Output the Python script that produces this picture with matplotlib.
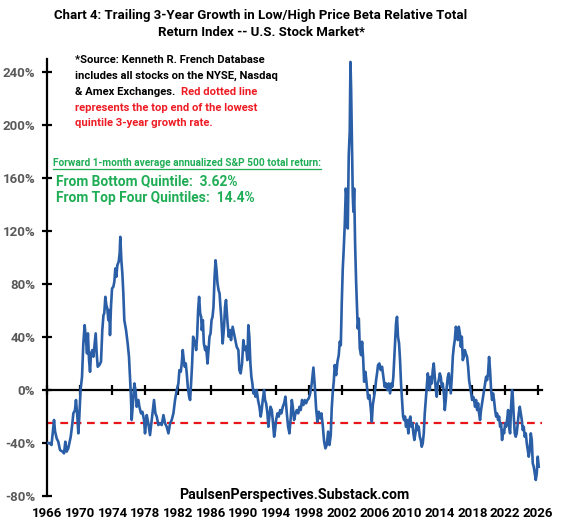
import matplotlib
matplotlib.use("Agg")
import matplotlib.pyplot as plt
from matplotlib.lines import Line2D

plt.rcParams['font.family'] = ['Roboto', 'DejaVu Sans']
plt.rcParams['font.weight'] = 'bold'

# trailing 3-year growth (percent)
years = [1966.10, 1966.37, 1966.55, 1966.86, 1966.98, 1967.18, 1967.38, 1967.59, 1967.90, 1968.08,
         1968.24, 1968.40, 1968.60, 1968.90, 1969.10, 1969.22, 1969.42, 1969.54, 1969.71, 1969.83,
         1969.95, 1970.10, 1970.28, 1970.44, 1970.60, 1970.77, 1970.89, 1971.00, 1971.14, 1971.26,
         1971.38, 1971.54, 1971.67, 1971.79, 1971.95, 1972.07, 1972.20, 1972.40, 1972.60, 1972.76,
         1972.90, 1973.00, 1973.13, 1973.25, 1973.37, 1973.50, 1973.62, 1973.70, 1973.82, 1973.95,
         1974.11, 1974.23, 1974.35, 1974.47, 1974.60, 1974.76, 1974.88, 1974.96, 1975.09, 1975.21,
         1975.33, 1975.45, 1975.66, 1975.86, 1976.02, 1976.14, 1976.26, 1976.35, 1976.56, 1976.68,
         1976.84, 1976.96, 1977.17, 1977.29, 1977.49, 1977.66, 1977.86, 1977.98, 1978.19, 1978.39,
         1978.59, 1978.80, 1979.08, 1979.25, 1979.41, 1979.61, 1979.82, 1980.02, 1980.23, 1980.43,
         1980.63, 1980.84, 1981.04, 1981.24, 1981.45, 1981.65, 1981.86, 1982.06, 1982.18, 1982.35,
         1982.47, 1982.59, 1982.72, 1982.84, 1982.96, 1983.08, 1983.21, 1983.37, 1983.49, 1983.61,
         1983.74, 1983.86, 1983.98, 1984.10, 1984.23, 1984.35, 1984.47, 1984.59, 1984.72, 1984.84,
         1984.92, 1985.05, 1985.17, 1985.33, 1985.45, 1985.62, 1985.74, 1985.86, 1985.99, 1986.11,
         1986.23, 1986.35, 1986.48, 1986.60, 1986.72, 1986.84, 1986.97, 1987.09, 1987.17, 1987.29,
         1987.47, 1987.64, 1987.76, 1987.88, 1988.04, 1988.21, 1988.37, 1988.49, 1988.69, 1988.86,
         1989.02, 1989.18, 1989.39, 1989.51, 1989.67, 1989.84, 1990.00, 1990.16, 1990.33, 1990.49,
         1990.61, 1990.73, 1990.86, 1990.98, 1991.10, 1991.22, 1991.35, 1991.47, 1991.63, 1991.79,
         1991.96, 1992.12, 1992.24, 1992.37, 1992.53, 1992.65, 1992.78, 1992.94, 1993.06, 1993.18,
         1993.31, 1993.47, 1993.59, 1993.76, 1993.88, 1994.00, 1994.17, 1994.33, 1994.49, 1994.65,
         1994.82, 1994.98, 1995.14, 1995.31, 1995.47, 1995.63, 1995.80, 1995.92, 1996.04, 1996.20,
         1996.37, 1996.53, 1996.70, 1996.86, 1997.01, 1997.17, 1997.34, 1997.50, 1997.66, 1997.83,
         1997.99, 1998.15, 1998.36, 1998.56, 1998.72, 1998.89, 1999.05, 1999.21, 1999.38, 1999.54,
         1999.70, 1999.87, 2000.03, 2000.19, 2000.36, 2000.52, 2000.68, 2000.80, 2000.93, 2001.05,
         2001.17, 2001.34, 2001.50, 2001.66, 2001.78, 2001.91, 2002.03, 2002.15, 2002.27, 2002.39,
         2002.52, 2002.64, 2002.76, 2002.88, 2003.00, 2003.09, 2003.17, 2003.29, 2003.37, 2003.45,
         2003.54, 2003.66, 2003.78, 2003.90, 2003.98, 2004.11, 2004.23, 2004.39, 2004.51, 2004.64,
         2004.76, 2004.92, 2005.09, 2005.25, 2005.41, 2005.57, 2005.70, 2005.82, 2005.94, 2006.10,
         2006.22, 2006.34, 2006.46, 2006.62, 2006.79, 2006.95, 2007.11, 2007.27, 2007.44, 2007.60,
         2007.76, 2007.93, 2008.09, 2008.21, 2008.33, 2008.50, 2008.66, 2008.78, 2008.90, 2009.03,
         2009.15, 2009.27, 2009.39, 2009.52, 2009.64, 2009.76, 2009.88, 2010.00, 2010.17, 2010.29,
         2010.41, 2010.54, 2010.66, 2010.78, 2010.90, 2011.03, 2011.19, 2011.31, 2011.43, 2011.56,
         2011.68, 2011.80, 2011.92, 2012.05, 2012.17, 2012.29, 2012.41, 2012.54, 2012.66, 2012.78,
         2012.90, 2013.03, 2013.15, 2013.27, 2013.39, 2013.52, 2013.64, 2013.76, 2013.88, 2014.01,
         2014.13, 2014.25, 2014.37, 2014.50, 2014.62, 2014.74, 2014.86, 2014.99, 2015.11, 2015.23,
         2015.35, 2015.48, 2015.60, 2015.72, 2015.84, 2015.97, 2016.09, 2016.21, 2016.33, 2016.46,
         2016.58, 2016.70, 2016.82, 2016.95, 2017.07, 2017.22, 2017.34, 2017.47, 2017.59, 2017.71,
         2017.83, 2017.96, 2018.08, 2018.20, 2018.32, 2018.44, 2018.57, 2018.69, 2018.81, 2018.93,
         2019.05, 2019.18, 2019.30, 2019.42, 2019.54, 2019.67, 2019.79, 2019.91, 2020.03, 2020.15,
         2020.28, 2020.40, 2020.52, 2020.64, 2020.77, 2020.89, 2021.01, 2021.13, 2021.26, 2021.38,
         2021.50, 2021.62, 2021.74, 2021.87, 2021.99, 2022.11, 2022.23, 2022.36, 2022.48, 2022.60,
         2022.72, 2022.84, 2022.93, 2023.05, 2023.17, 2023.29, 2023.41, 2023.54, 2023.66, 2023.78,
         2023.90, 2024.03, 2024.15, 2024.27, 2024.39, 2024.52, 2024.64, 2024.76, 2024.88, 2025.00,
         2025.13, 2025.25, 2025.37, 2025.49, 2025.61, 2025.74, 2025.86, 2025.98, 2026.10]
growth = [-40, -40.3, -41.5, -22.6, -31, -36.5, -39, -45.3, -46.5, -47.8,
          -39, -46.5, -44, -35.2, -25.2, -17.6, -15.1, -7.5, -20, -32.7,
          -20, 0, 10, 35.2, 49, 37.7, 27.7, 42.8, 22.6, 13.8,
          27.7, 30.2, 25.2, 32.7, 42.8, 27.7, 17.6, 18.9, 21.4, 45.3,
          56.6, 57.9, 70.4, 64.2, 61.6, 52.8, 60.4, 41.5, 63, 76.7,
          78, 81.8, 91.8, 85.5, 94.3, 96.9, 103.2, 115.7, 98, 88,
          73, 52.8, 45.3, 35.2, 25.2, 10, -5, -22.6, -5, 5,
          -1.3, -12.6, -7.5, -12.6, -17.6, -16.4, -22.6, -32.7, -18.9, -25.2,
          -34, -22.6, -7.5, -17.6, -20, -26.4, -25.2, -26.4, -18.9, -25.2,
          -27.7, -32.7, -25.2, -22.6, -17.6, -7.5, 0, 5, 15, 13.8,
          20.1, 30.2, 22.6, 17.6, 20.1, 12.6, 2.5, -5, -7.5, 5,
          20.1, 40.3, 37.7, 35.2, 30.2, 40.3, 60.4, 70.4, 57.9, 55.3,
          45.3, 52.8, 35.2, 30.2, 32.7, 20.1, 30.2, 40.3, 42.8, 52.8,
          55.3, 62.9, 85.5, 98, 90.6, 80.5, 75.4, 73, 65.4, 55.3,
          35.2, 47.8, 62.9, 68, 52.8, 40.3, 45.3, 37.7, 47.8, 42.8,
          37.7, 32.7, 30.2, 15.1, 12.6, 20.1, 37.7, 30.2, 32.7, 22.6,
          49, 40.3, 20.1, 10, 5, -2.5, 0, -5, 0, -7.5,
          -12.6, -20, -15.1, -7.5, 0, -7.5, -10, -17.6, -27.7, -20,
          -12.6, -15.1, -22.6, -35.2, -30.2, -22.6, -17.6, -20, -15.1, -17.6,
          -12.6, -10, -5, -17.6, -27.7, -32.7, -20, -7.5, -12.6, -22.6,
          -17.6, -15.1, -17.6, -12.6, -15.1, -7.5, -11.3, -7.5, -10, -7.5,
          -6.3, -3, 5, 17, 4, -13.8, -23.9, -16.4, -21.4, -17.6,
          -26.4, -39, -44, -41.5, -31.4, -41.5, -34, -13.8, -1.3, 6.3,
          18.9, 11.3, 21.4, 26.4, 36.5, 33.9, 66.6, 91.8, 106.9, 124.5,
          152.2, 144.7, 122, 177.4, 195, 247.8, 227.7, 182.4, 147.2, 134.6,
          152.2, 109.4, 81.8, 61.6, 46.5, 54, 31.4, 26.4, 36.5, 23.9,
          6.3, 13.8, 3.8, -6.3, -3.8, -13.8, -23.9, -11.3, -6.3, 0,
          7.5, 12.6, 18.9, 20.1, 15.1, 17.6, 10, 2.5, 5, 0,
          5, -2.5, 5, 2.5, 10, 30.2, 50.3, 55.3, 40.3, 35.2,
          22.6, 5, -7.5, -20, -22.6, -20, -27.7, -22.6, -32.7, -22.6,
          -20, -27.7, -25.2, -32.7, -37.7, -32.7, -25.2, -30.2, -27.7, -35.2,
          -37.7, -42.8, -40.3, -32.7, -17.6, -7.5, 2.5, 12.6, 7.5, 0,
          10, 5, 15.1, 20.1, 10, 0, -5, 5, 7.5, 12.6,
          10, 2.5, 5, -2.5, -15.1, -7.5, 2.5, 10, 12.6, 5,
          -2.5, 10, 25.2, 32.7, 37.7, 47.8, 45.3, 37.7, 47.8, 42.8,
          32.7, 40.3, 22.6, 25.2, 30.2, 27, 25.2, 17.6, 7.5, 2.5,
          -2.5, -7.5, -5, -7.5, -12.6, -7.5, -15.1, -10, -17.6, -22.6,
          -15.1, -10, -5, 0, 5, 10, 7.5, 12.6, 25, 15.1,
          0, -7.5, -2.5, -7.5, -15.1, -20, -17.6, -22.6, -20, -27.7,
          -25.2, -37.7, -30.2, -32.7, -25.2, -27.7, -22.6, -15.1, -27.7, -32.7,
          -12.6, 0, -5, -20, -32.7, -35.2, -32.7, -25.2, -17.6, -12.6,
          -17.6, -22.6, -30.2, -27.7, -35.2, -32.7, -40.3, -45.3, -50.3, -45.3,
          -32.7, -37.7, -55.3, -57.9, -62.9, -67.9, -62.9, -50.3, -57.9]

quintile_cut = -25  # top end of lowest quintile
year_ticks = list(range(1966, 2027, 4))
pct_ticks = list(range(-80, 241, 40))

W, H = 566, 527
fig = plt.figure(figsize=(W / 100, H / 100), dpi=100)
ax = fig.add_axes([47 / W, 31 / H, 495 / W, 437 / H])

ax.plot(years, growth, color='#2a5ea6', lw=1.9, zorder=3)
ax.axhline(quintile_cut, color='#e8161b', lw=1.6, ls=(0, (3.5, 2.5)), zorder=2)

ax.set_xlim(1966, 2026.5)
ax.set_ylim(-80, 250)

for s in ['top', 'right']:
    ax.spines[s].set_visible(False)
ax.spines['left'].set_linewidth(1.6)
ax.spines['left'].set_bounds(-80, 250)
ax.spines['bottom'].set_position(('data', 0))
ax.spines['bottom'].set_linewidth(1.6)

ax.set_yticks(pct_ticks)
ax.set_yticklabels([f'{v}%' for v in pct_ticks])
ax.tick_params(axis='y', direction='inout', length=7, width=1.6, pad=5,
               labelsize=9.5, labelcolor='#595959')
ax.set_xticks(year_ticks)
ax.tick_params(axis='x', direction='inout', length=7, width=1.6, labelbottom=False)

sec = ax.secondary_xaxis('bottom')
sec.spines['bottom'].set_visible(False)
sec.set_xticks(year_ticks)
sec.tick_params(length=0, pad=8, labelsize=9.5)

def fx(px):
    return px / W

def fy(py):
    return 1 - py / H

fig.text(fx(261), fy(9), 'Chart 4: Trailing 3-Year Growth in Low/High Price Beta Relative Total\n'
         'Return Index -- U.S. Stock Market*', ha='center', va='top', fontsize=9.5,
         linespacing=1.45)

note = ['*Source: Kenneth R. French Database',
        'includes all stocks on the NYSE, Nasdaq',
        '& Amex Exchanges.  ']
red_note = ['Red dotted line',
            'represents the top end of the lowest',
            'quintile 3-year growth rate.']
red = '#ee1c25'
base = [63, 79, 95, 111, 126]
for i, line in enumerate(note):
    t = fig.text(fx(75), fy(base[i]), line, fontsize=8.1, va='baseline')
fig.canvas.draw()
bb = t.get_window_extent()
fig.text(bb.x1 / W, fy(base[2]), red_note[0], fontsize=8.1, va='baseline', color=red)
for i, line in enumerate(red_note[1:]):
    fig.text(fx(75), fy(base[3 + i]), line, fontsize=8.1, va='baseline', color=red)

green = '#1fad55'
hdr = fig.text(fx(53), fy(166), 'Forward 1-month average annualized S&P 500 total return:',
               fontsize=7.3, va='baseline', color=green)
fig.canvas.draw()
hb = hdr.get_window_extent()
uy = fy(168.5)
fig.add_artist(Line2D([hb.x0 / W, hb.x1 / W], [uy, uy],
                      color=green, lw=0.9, transform=fig.transFigure))
fig.text(fx(56), fy(185), 'From Bottom Quintile:  3.62%', fontsize=9.9, va='baseline', color=green)
fig.text(fx(56), fy(202), 'From Top Four Quintiles:  14.4%', fontsize=9.9, va='baseline', color=green)

fig.text(fx(294), fy(499), 'PaulsenPerspectives.Substack.com', ha='center', va='baseline',
         fontsize=10.2)

fig.savefig('out.png', dpi=100)
